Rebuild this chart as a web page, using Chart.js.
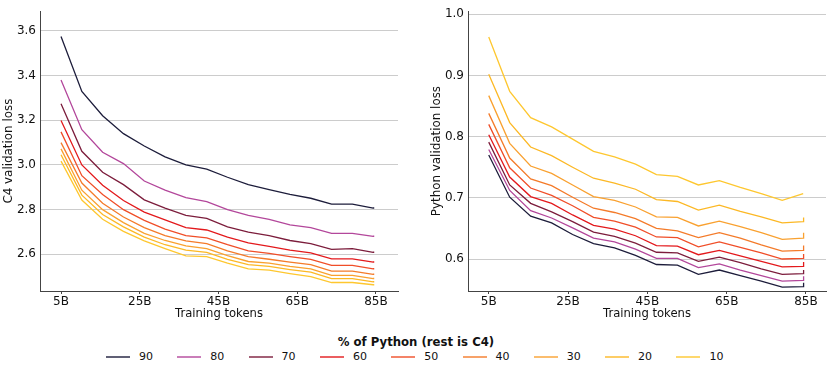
<!DOCTYPE html>
<html>
<head>
<meta charset="utf-8">
<script src="https://cdn.jsdelivr.net/npm/chart.js@4/dist/chart.umd.min.js"></script>
<style>
  html, body { margin:0; padding:0; background:#fff; }
  body { width:830px; height:374px; position:relative; overflow:hidden; font-family:"DejaVu Sans", sans-serif; }
  #c1 { position:absolute; left:0; top:0; }
  #c2 { position:absolute; left:415px; top:0; }
  #legendTitle { position:absolute; left:0; width:832px; top:335px; text-align:center; font-weight:bold; font-size:11.7px; color:#111; }
  .item { position:absolute; top:350px; height:14px; font-size:11px; color:#111; }
  .item .sw { position:absolute; left:0; top:6px; width:24px; height:2px; }
  .item .tx { position:absolute; left:33px; top:0; line-height:14px; white-space:nowrap; }
</style>
</head>
<body>
<canvas id="c1" width="415" height="330"></canvas>
<canvas id="c2" width="415" height="330"></canvas>
<div id="legendTitle">% of Python (rest is C4)</div>
<div id="legend"></div>
<script>
// ---------- data ----------
const pythonShare = ["90", "80", "70", "60", "50", "40", "30", "20", "10"];
const lineColors = ["#1d1d3b", "#b3479b", "#7c1d3c", "#e3191c", "#f04e28", "#f47b2a", "#f9a130", "#fcb825", "#fec72f"];
const legendColors = ["rgba(29,29,59,0.7)", "rgba(179,71,155,0.7)", "rgba(124,29,60,0.7)", "rgba(227,25,28,0.7)", "rgba(240,78,40,0.7)", "rgba(244,123,42,0.7)", "rgba(249,161,48,0.7)", "rgba(252,184,37,0.7)", "rgba(254,199,47,0.7)"];

// training tokens (billions) at each evaluation
const tokens = [5, 10.29, 15.57, 20.86, 26.15, 31.43, 36.72, 42.01, 47.29, 52.58, 57.87, 63.15, 68.44, 73.73, 79.01, 84.3, 84.4];

const xTickValues = [5, 25, 45, 65, 85];
const xTickLabels = ["5B", "25B", "45B", "65B", "85B"];
const c4TickValues = [2.6, 2.8, 3.0, 3.2, 3.4, 3.6];
const c4TickLabels = ["2.6", "2.8", "3.0", "3.2", "3.4", "3.6"];
const pyTickValues = [0.6, 0.7, 0.8, 0.9, 1.0];
const pyTickLabels = ["0.6", "0.7", "0.8", "0.9", "1.0"];

// C4 validation loss, one list per Python share
const c4_90 = [3.575, 3.329, 3.220, 3.140, 3.085, 3.036, 3.000, 2.981, 2.945, 2.912, 2.890, 2.868, 2.851, 2.825, 2.825, 2.807, 2.811];
const c4_80 = [3.380, 3.158, 3.057, 3.006, 2.928, 2.887, 2.854, 2.836, 2.800, 2.774, 2.757, 2.732, 2.720, 2.694, 2.694, 2.680, 2.684];
const c4_70 = [3.274, 3.061, 2.967, 2.912, 2.844, 2.807, 2.774, 2.761, 2.723, 2.699, 2.684, 2.662, 2.648, 2.622, 2.626, 2.609, 2.613];
const c4_60 = [3.199, 3.000, 2.909, 2.841, 2.789, 2.754, 2.720, 2.709, 2.677, 2.651, 2.636, 2.619, 2.607, 2.580, 2.580, 2.565, 2.569];
const c4_50 = [3.148, 2.952, 2.868, 2.800, 2.752, 2.713, 2.684, 2.674, 2.643, 2.616, 2.604, 2.590, 2.578, 2.551, 2.551, 2.535, 2.539];
const c4_40 = [3.100, 2.919, 2.829, 2.767, 2.720, 2.684, 2.660, 2.648, 2.616, 2.590, 2.578, 2.565, 2.554, 2.525, 2.525, 2.510, 2.514];
const c4_30 = [3.072, 2.887, 2.800, 2.742, 2.694, 2.662, 2.638, 2.626, 2.594, 2.568, 2.561, 2.546, 2.535, 2.506, 2.506, 2.491, 2.495];
const c4_20 = [3.046, 2.865, 2.778, 2.723, 2.677, 2.643, 2.619, 2.609, 2.578, 2.554, 2.546, 2.532, 2.520, 2.491, 2.491, 2.477, 2.481];
const c4_10 = [3.017, 2.843, 2.757, 2.703, 2.660, 2.626, 2.593, 2.590, 2.561, 2.535, 2.529, 2.514, 2.500, 2.474, 2.474, 2.464, 2.467];

// Python validation loss, one list per Python share
const py_90 = [0.770, 0.701, 0.670, 0.659, 0.640, 0.625, 0.618, 0.606, 0.591, 0.590, 0.575, 0.582, 0.573, 0.564, 0.554, 0.555, 0.561];
const py_80 = [0.779, 0.712, 0.679, 0.667, 0.651, 0.634, 0.628, 0.616, 0.601, 0.601, 0.586, 0.592, 0.582, 0.573, 0.564, 0.565, 0.572];
const py_70 = [0.791, 0.721, 0.691, 0.677, 0.661, 0.644, 0.637, 0.626, 0.611, 0.610, 0.596, 0.603, 0.594, 0.584, 0.575, 0.576, 0.582];
const py_60 = [0.803, 0.734, 0.702, 0.691, 0.672, 0.655, 0.649, 0.638, 0.622, 0.621, 0.607, 0.614, 0.605, 0.596, 0.587, 0.588, 0.595];
const py_50 = [0.820, 0.749, 0.716, 0.704, 0.687, 0.668, 0.662, 0.652, 0.636, 0.635, 0.620, 0.628, 0.619, 0.610, 0.600, 0.601, 0.608];
const py_40 = [0.838, 0.765, 0.731, 0.720, 0.701, 0.683, 0.676, 0.666, 0.650, 0.646, 0.635, 0.643, 0.634, 0.623, 0.613, 0.614, 0.622];
const py_30 = [0.867, 0.789, 0.752, 0.740, 0.721, 0.702, 0.696, 0.685, 0.669, 0.668, 0.654, 0.662, 0.653, 0.643, 0.632, 0.634, 0.643];
const py_20 = [0.902, 0.823, 0.783, 0.769, 0.750, 0.732, 0.724, 0.714, 0.697, 0.694, 0.680, 0.688, 0.678, 0.669, 0.659, 0.661, 0.668];
const py_10 = [0.963, 0.874, 0.831, 0.816, 0.796, 0.776, 0.767, 0.755, 0.738, 0.735, 0.721, 0.728, 0.717, 0.707, 0.696, 0.707, null];

const c4Series = [c4_90, c4_80, c4_70, c4_60, c4_50, c4_40, c4_30, c4_20, c4_10];
const pySeries = [py_90, py_80, py_70, py_60, py_50, py_40, py_30, py_20, py_10];

// ---------- chart builder ----------
const FONT = "'DejaVu Sans', sans-serif";
const AXIS = "#444444";

function makeDatasets(series) {
  return series.map((vals, i) => ({
    label: pythonShare[i],
    data: tokens.map((t, k) => ({ x: t, y: vals[k] })),
    borderColor: lineColors[i],
    backgroundColor: lineColors[i],
    borderWidth: 1.3,
    pointRadius: 0,
    tension: 0,
    spanGaps: false
  }));
}

function makeChart(id, series, cfg) {
  return new Chart(document.getElementById(id), {
    type: 'line',
    data: { datasets: makeDatasets(series) },
    options: {
      responsive: false,
      animation: false,
      devicePixelRatio: 1,
      layout: { padding: cfg.padding },
      plugins: { legend: { display: false }, tooltip: { enabled: false } },
      scales: {
        x: {
          type: 'linear',
          min: cfg.xmin, max: cfg.xmax,
          afterBuildTicks: s => { s.ticks = xTickValues.map(v => ({ value: v })); },
          afterFit: s => { s.height = 39; },
          ticks: {
            autoSkip: false, maxRotation: 0, padding: 1,
            color: '#111', font: { family: FONT, size: 12 },
            callback: (v) => xTickLabels[xTickValues.indexOf(v)]
          },
          grid: { drawOnChartArea: false, drawTicks: true, tickLength: 3, color: AXIS },
          border: { display: true, color: AXIS, width: 1 },
          title: { display: true, text: 'Training tokens', color: '#111', font: { family: FONT, size: 11.6 }, padding: { top: 0, bottom: 9 } }
        },
        y: {
          type: 'linear',
          min: cfg.ymin, max: cfg.ymax,
          afterBuildTicks: s => { s.ticks = cfg.tickValues.map(v => ({ value: v })); },
          afterFit: s => { s.width = cfg.yWidth; },
          ticks: {
            padding: 4, color: '#111', font: { family: FONT, size: 12 },
            callback: (v) => cfg.tickLabels[cfg.tickValues.indexOf(v)]
          },
          grid: { drawOnChartArea: true, drawTicks: false, tickLength: 0, color: '#cccccc', lineWidth: 1 },
          border: { display: true, color: AXIS, width: 1 },
          title: { display: true, text: cfg.yTitle, color: '#111', font: { family: FONT, size: 11.9 }, padding: { top: cfg.titlePad, bottom: 0 } }
        }
      }
    }
  });
}

makeChart('c1', c4Series, {
  padding: { top: 4, right: 17, left: 0, bottom: 0 },
  xmin: -0.34, xmax: 90.6, ymin: 2.436, ymax: 3.688,
  tickValues: c4TickValues, tickLabels: c4TickLabels,
  yWidth: 40, yTitle: 'C4 validation loss', titlePad: 2
});
makeChart('c2', pySeries, {
  padding: { top: 5, right: 4, left: 0, bottom: 0 },
  xmin: -0.23, xmax: 90.05, ymin: 0.5477, ymax: 1.005,
  tickValues: pyTickValues, tickLabels: pyTickLabels,
  yWidth: 53, yTitle: 'Python validation loss', titlePad: 15
});

// ---------- legend ----------
const leg = document.getElementById('legend');
pythonShare.forEach((lab, i) => {
  const d = document.createElement('div');
  d.className = 'item';
  d.style.left = (106 + i * 71.3) + 'px';
  d.innerHTML = '<div class="sw" style="background:' + legendColors[i] + '"></div><div class="tx">' + lab + '</div>';
  leg.appendChild(d);
});
</script>
</body>
</html>
